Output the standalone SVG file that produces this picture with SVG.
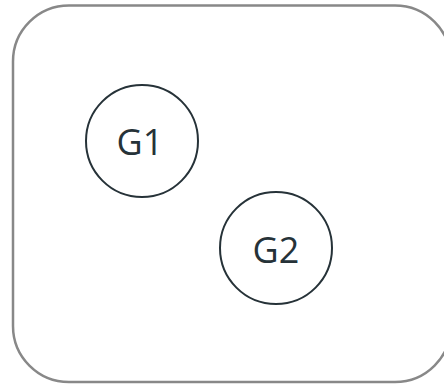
<svg xmlns="http://www.w3.org/2000/svg" width="444" height="384" viewBox="0 0 444 384">
  <style>
    .frame { fill: #ffffff; stroke: #888888; stroke-width: 2.5; }
    .node circle { fill: #ffffff; stroke: #263238; stroke-width: 2; }
    .node text { font-family: "Open Sans", "Noto Sans", sans-serif; font-size: 36px; fill: #263238; text-anchor: middle; }
  </style>
  <rect width="444" height="384" fill="#ffffff"/>
  <!-- outer container -->
  <rect class="frame" x="13" y="5.5" width="438" height="376.5" rx="56" ry="56"/>
  <g id="connectors"></g>
  <g id="G1" class="node">
    <circle cx="142" cy="141" r="56"/>
    <text x="140" y="155">G1</text>
  </g>
  <g id="G2" class="node">
    <circle cx="276" cy="248" r="56"/>
    <text x="276" y="263">G2</text>
  </g>
</svg>
